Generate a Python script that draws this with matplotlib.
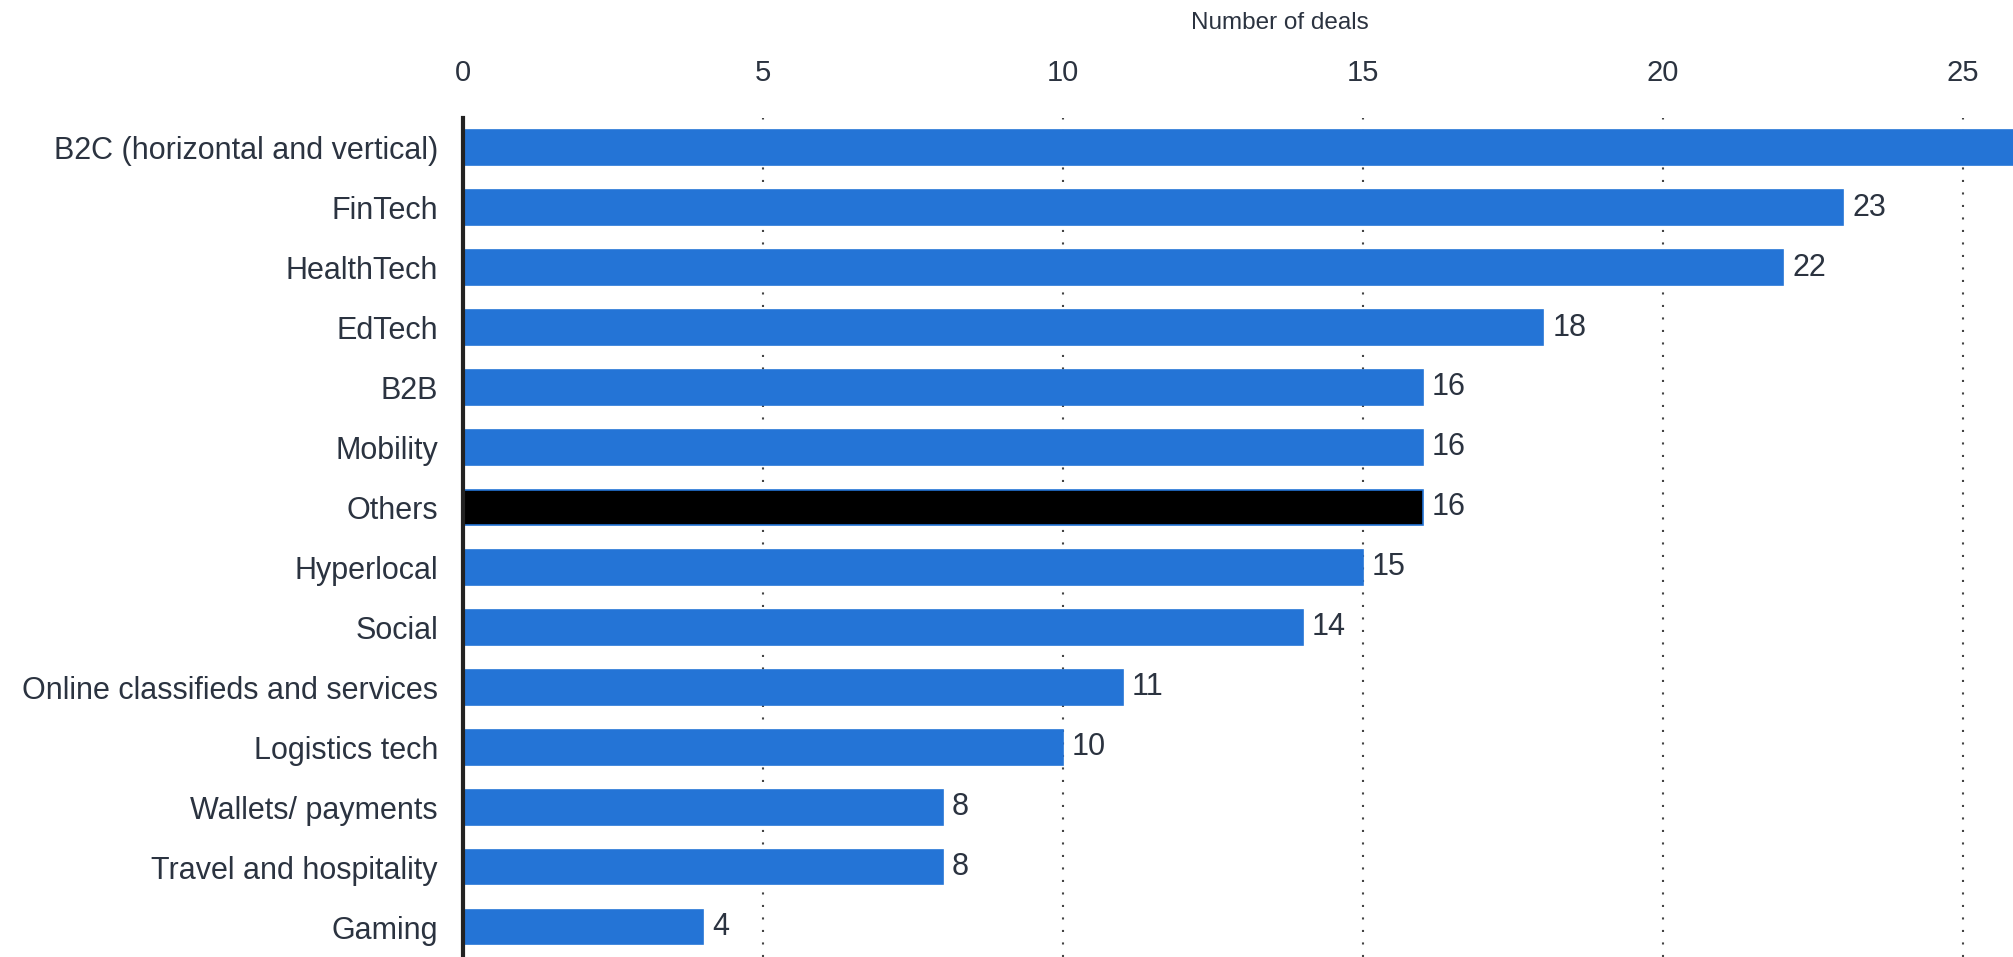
import matplotlib
matplotlib.use("Agg")
import matplotlib.pyplot as plt

# Number of deals per sector (B2C bar runs past the right edge of the chart)
sectors = [
    "B2C (horizontal and vertical)", "FinTech", "HealthTech", "EdTech", "B2B",
    "Mobility", "Others", "Hyperlocal", "Social", "Online classifieds and services",
    "Logistics tech", "Wallets/ payments", "Travel and hospitality", "Gaming",
]
deals = [27, 23, 22, 18, 16, 16, 16, 15, 14, 11, 10, 8, 8, 4]
highlight = "Others"
x_ticks = [0, 5, 10, 15, 20, 25]

blue = "#2474d6"
text_col = "#2b3340"
x_max = 25.83

plt.rcParams["font.family"] = ["Liberation Sans", "DejaVu Sans"]

fig = plt.figure(figsize=(20.13, 9.57), dpi=100)
ax = fig.add_axes([0.230, 0.0, 0.770, 0.877])

ypos = list(range(len(sectors)))
colors = ["black" if s == highlight else blue for s in sectors]
ax.barh(ypos, deals, height=0.58, color=colors, edgecolor=blue, linewidth=1.2, zorder=3)

# value labels, only where they fit inside the visible range
for y, v in zip(ypos, deals):
    if v + 1 < x_max:
        ax.text(v + 0.15, y, str(v), va="center", ha="left", fontsize=22,
                color=text_col, zorder=4)

ax.set_xlim(0, x_max)
ax.set_ylim(len(sectors) - 0.5, -0.5)
ax.set_yticks(ypos)
ax.set_yticklabels(sectors, fontsize=22, color=text_col)
ax.set_xticks(x_ticks)
ax.set_xticklabels([str(t) for t in x_ticks], fontsize=21, color=text_col)
ax.xaxis.tick_top()
ax.xaxis.set_label_position("top")
ax.set_xlabel("Number of deals", fontsize=17.5, color=text_col, va="center")
ax.xaxis.set_label_coords(0.527, 1.113)
ax.tick_params(axis="x", length=0, pad=22)
ax.tick_params(axis="y", length=0, pad=18)

for t in x_ticks[1:]:
    ax.axvline(t, color="#444444", linestyle=(0, (1, 5)), linewidth=1.5, zorder=1)

for side in ["top", "right", "bottom"]:
    ax.spines[side].set_visible(False)
ax.spines["left"].set_linewidth(3)
ax.spines["left"].set_color("#222222")
ax.spines["left"].set_zorder(5)

fig.savefig("out.png", dpi=100)
